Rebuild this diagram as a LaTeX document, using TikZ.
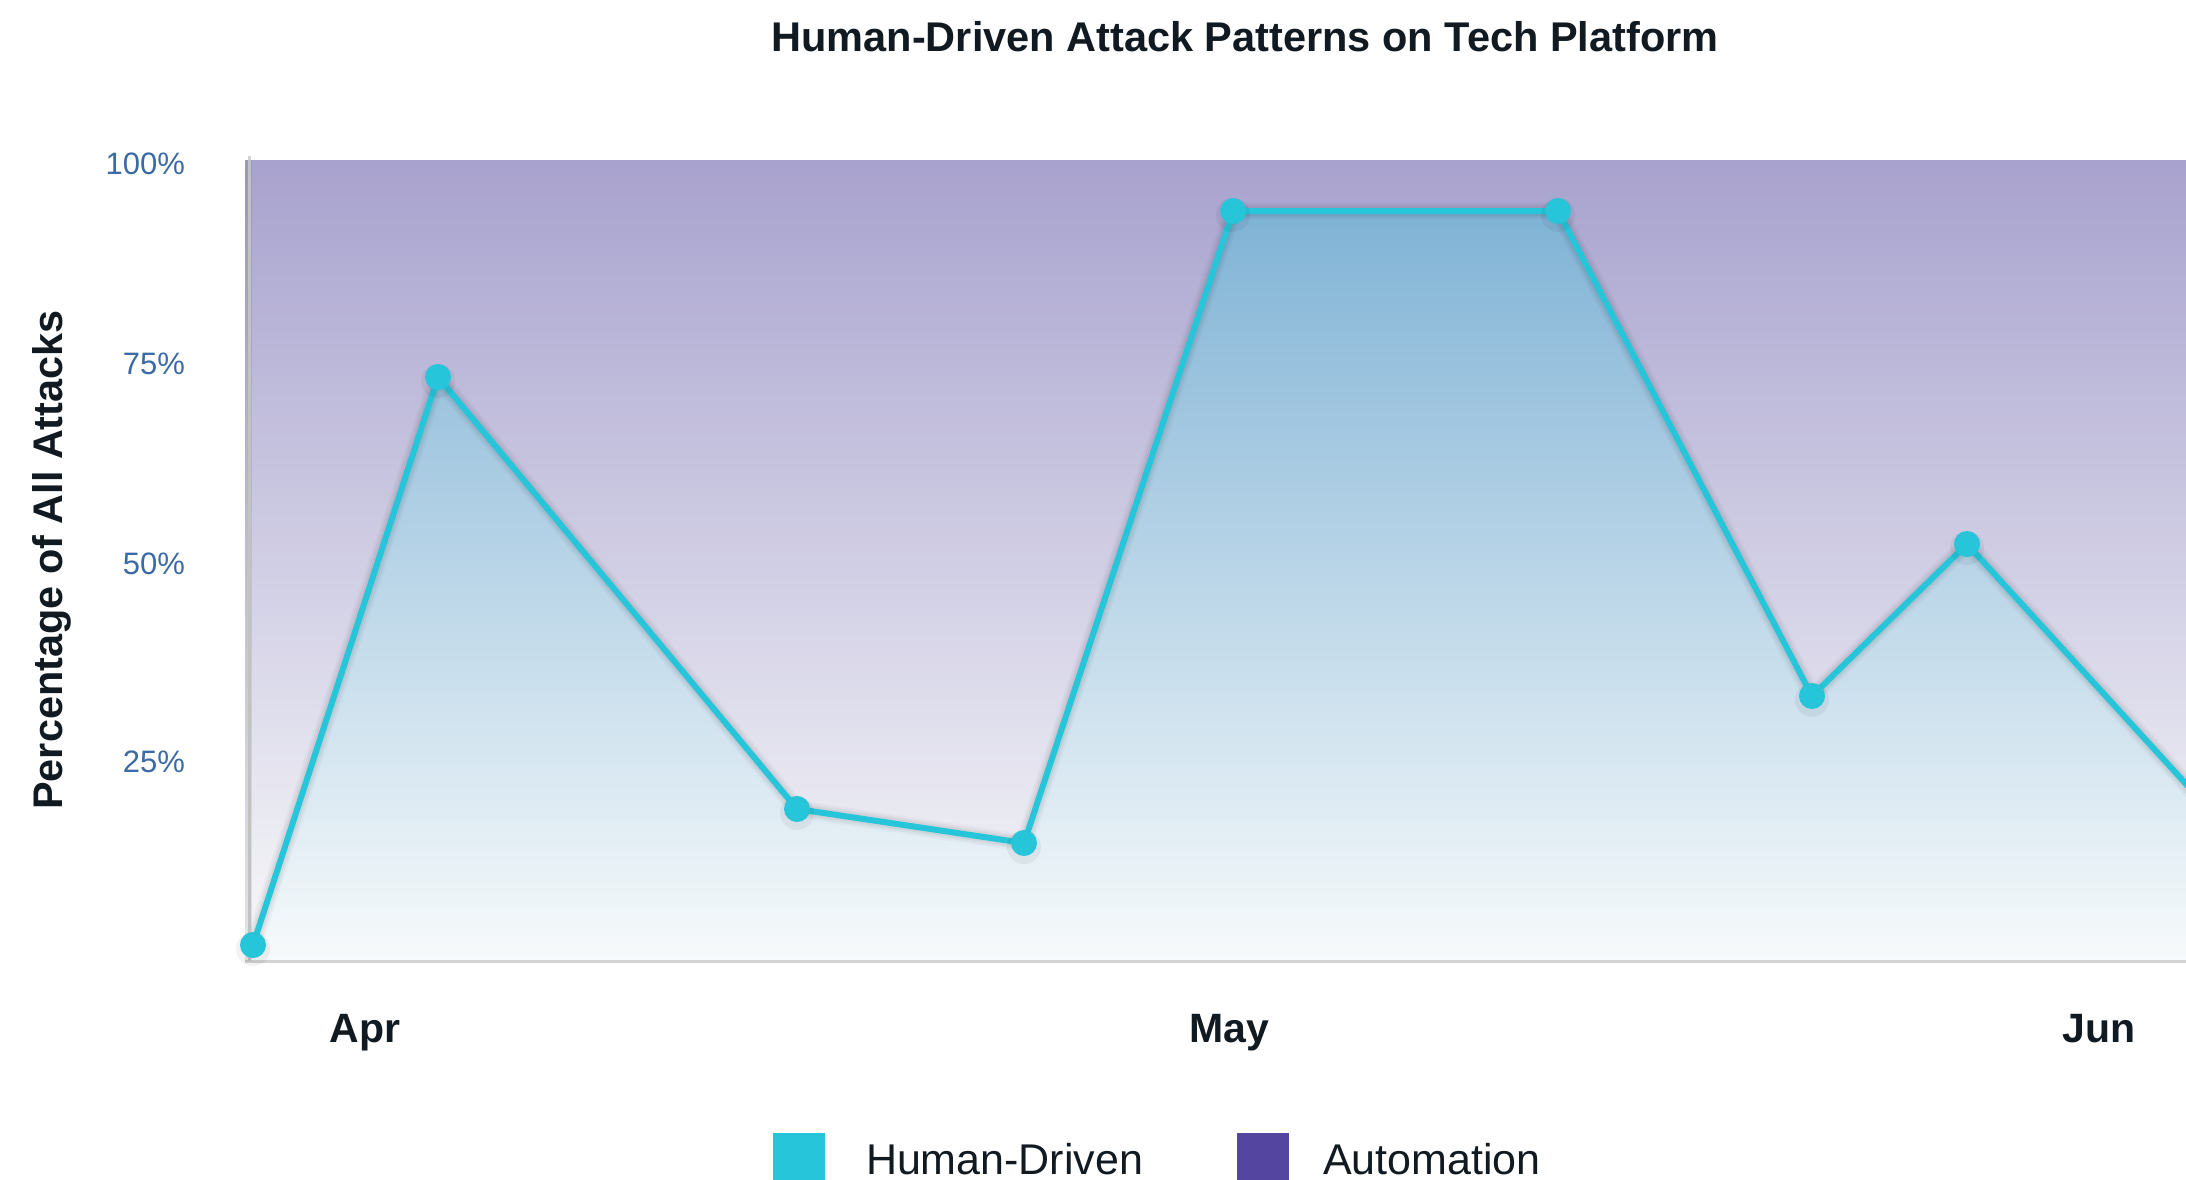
\documentclass[tikz,border=0pt]{standalone}
\usepackage{fontspec}
\setmainfont{Liberation Sans}
\definecolor{human}{HTML}{26C5DA}
\definecolor{auto}{HTML}{5446A0}
\definecolor{tick}{HTML}{3B6BA5}
\definecolor{ink}{HTML}{111A21}
\definecolor{bgtop}{HTML}{A8A2CE}
\definecolor{bgmid}{HTML}{EBE8F3}
\definecolor{bgbot}{HTML}{F8F9FA}
\definecolor{hutop}{HTML}{78AED3}
\definecolor{humid}{HTML}{D6E8F0}
\definecolor{hubot}{HTML}{F7FAFB}
\definecolor{axisgray}{HTML}{D3D3D3}
\begin{document}
\begin{tikzpicture}[x=0.5pt,y=-0.5pt,
  txt/.style={inner sep=0pt, outer sep=0pt},
  ticklabel/.style={txt, anchor=base east, text=tick, font=\fontsize{15.5}{18}\selectfont},
  monthlabel/.style={txt, anchor=base, text=ink, font=\bfseries\fontsize{20.5}{24}\selectfont},
  legendtext/.style={txt, anchor=base west, text=ink, font=\fontsize{21.5}{25}\selectfont},
  legendsq/.style={draw=none, minimum width=26pt, minimum height=26pt, inner sep=0pt},
  marker/.style={circle, fill=human, draw=none, minimum size=13pt, inner sep=0pt},
  series/.style={draw=human, line width=3pt, line join=round, line cap=round},
  glow/.style={draw=black, line join=round, line cap=round}
]
\useasboundingbox (0,0) rectangle (2186,1179);
\fill[white] (0,0) rectangle (2186,1179);

% data points of the human-driven series
\coordinate (p1) at (253,945);
\coordinate (p2) at (438,377);
\coordinate (p3) at (797,809);
\coordinate (p4) at (1024,843);
\coordinate (p5) at (1233,211);
\coordinate (p6) at (1558,211);
\coordinate (p7) at (1812,696);
\coordinate (p8) at (1967,544);
\coordinate (p9) at (2260,865);

\begin{scope}
  \clip (245,150) rectangle (2186,961);
  % automation share fills the whole band
  \fill[top color=bgtop, middle color=bgmid, bottom color=bgbot]
    (245,160) rectangle (2186,961);
  % human-driven area
  \begin{scope}
    \clip (253,961) -- (p1) -- (p2) -- (p3) -- (p4) -- (p5) -- (p6) -- (p7) -- (p8) -- (p9) -- (2260,961) -- cycle;
    \fill[top color=hutop, middle color=humid, bottom color=hubot]
      (245,160) rectangle (2186,961);
  \end{scope}
  % soft shadow under the series line
  \foreach \w/\o in {9pt/0.025, 7pt/0.035, 5pt/0.045}{
    \draw[glow, line width=\w, opacity=\o, yshift=-2pt]
      (p1) -- (p2) -- (p3) -- (p4) -- (p5) -- (p6) -- (p7) -- (p8) -- (p9);
  }
  \draw[series] (p1) -- (p2) -- (p3) -- (p4) -- (p5) -- (p6) -- (p7) -- (p8) -- (p9);
\end{scope}

% axes
\draw[axisgray, line width=1.5pt] (249,156) -- (249,962);
\draw[axisgray, line width=1.5pt] (245,961) -- (2186,961);
\fill[auto, opacity=0.08] (245,160) rectangle (252,961);

% markers with a faint shadow
\foreach \p in {p1,p2,p3,p4,p5,p6,p7,p8}{
  \fill[black, opacity=0.05] ([yshift=-2pt]\p) circle (8.5pt);
}
\foreach \p in {p1,p2,p3,p4,p5,p6,p7,p8}{
  \node[marker] (m\p) at (\p) {};
}

% title
\node[txt, anchor=base, text=ink, font=\bfseries\fontsize{20.75}{24}\selectfont]
  (title) at (1245,51) {Human-Driven Attack Patterns on Tech Platform};

% y axis label
\node[txt, anchor=base, rotate=90, text=ink, font=\bfseries\fontsize{20.7}{24}\selectfont]
  (ylab) at (62,560) {Percentage of All Attacks};

% y tick labels
\node[ticklabel] (t100) at (185,174.5) {100\%};
\node[ticklabel] (t75) at (185,374) {75\%};
\node[ticklabel] (t50) at (185,574) {50\%};
\node[ticklabel] (t25) at (185,772) {25\%};

% month labels
\node[monthlabel] (apr) at (365,1042) {Apr};
\node[monthlabel] (may) at (1229,1042) {May};
\node[monthlabel] (jun) at (2099,1042) {Jun};

% legend
\node[legendsq, fill=human] (lgh) at (799,1159) {};
\node[legendtext] (lght) at (866,1174) {Human-Driven};
\node[legendsq, fill=auto] (lga) at (1262.5,1159) {};
\node[legendtext] (lgat) at (1323,1174) {Automation};
\end{tikzpicture}
\end{document}
